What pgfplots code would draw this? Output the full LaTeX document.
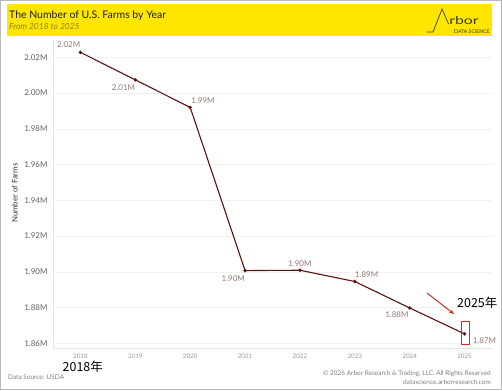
\documentclass[border=0pt]{standalone}
\usepackage{pgfplots}
\pgfplotsset{compat=1.18}
\usetikzlibrary{arrows.meta}
\usepackage{fontspec}
\setmainfont{Lato}
\newfontfamily\cjk{Noto Sans CJK SC}
\definecolor{banner}{HTML}{FFE600}
\definecolor{linec}{RGB}{88,20,14}
\definecolor{labc}{RGB}{150,120,112}
\definecolor{subc}{RGB}{140,130,40}
\definecolor{logoc}{RGB}{60,60,20}
\definecolor{annred}{RGB}{220,40,40}
\pgfplotsset{lbl/.style n args={3}{draw=none,mark=none,forget plot,point meta=explicit symbolic,nodes near coords,
  nodes near coords style={anchor=#1,xshift=#2bp,yshift=#3bp,inner sep=0pt,font=\fontsize{8}{9}\selectfont,text=labc}}}
\begin{document}
\begin{tikzpicture}
\begin{scope}[x=1bp,y=1bp]
\useasboundingbox (0,0) rectangle (502,390);
\fill[white] (0,0) rectangle (502,390);
\draw[gray!55,line width=1.4bp] (0.7,0.7) rectangle (501.3,389.3);
% banner
\fill[banner] (7,354.5) rectangle (492,386);
\node[anchor=base west,inner sep=0,font=\fontsize{10.5}{12}\selectfont,text=black!88] at (9,371.7) {The Number of U.S. Farms by Year};
\node[anchor=base west,inner sep=0,font=\fontsize{8.5}{10}\selectfont\itshape,text=subc] at (9,360.7) {From 2018 to 2025};
% logo
\draw[logoc,line width=0.7bp] (427,358) -- (433,358) -- (442,381) -- (448.5,366);
\node[anchor=base west,inner sep=0,font=\fontsize{11}{12}\selectfont,text=logoc,xscale=1.45] at (449,365.5) {rbor};
\node[anchor=base east,inner sep=0,font=\fontsize{5.2}{6}\selectfont,text=logoc] at (490,357) {DATA SCIENCE};
\end{scope}
\begin{axis}[
  at={(53bp,42bp)}, anchor=south west,
  scale only axis, width=439bp, height=308bp,
  xmin=-0.5, xmax=7.5, ymin=1.8574, ymax=2.0297,
  clip=false,
  axis lines*=left,
  axis line style={draw=gray!22,line width=0.6bp},
  major tick length=0pt,
  xtick={0,...,7},
  xticklabels={2018,2019,2020,2021,2022,2023,2024,2025},
  ytick={1.86,1.88,1.90,1.92,1.94,1.96,1.98,2.00,2.02},
  yticklabels={1.86M,1.88M,1.90M,1.92M,1.94M,1.96M,1.98M,2.00M,2.02M},
  ymajorgrids, grid style={draw=gray!12,line width=0.5bp},
  /pgf/number format/assume math mode=true,
  yticklabel style={font=\fontsize{8}{9}\selectfont,text=black!62,xshift=-2bp},
  xticklabel style={font=\fontsize{6.3}{7}\selectfont,text=black!40,yshift=-2bp},
  ylabel={Number of Farms},
  ylabel style={font=\fontsize{7.8}{9}\selectfont,text=black!80,at={(axis description cs:-0.087,0.503)},anchor=center,rotate=0},
]
\addplot[linec,line width=1.1bp,mark=*,mark size=1.1bp,mark options={fill=linec,draw=linec}]
  coordinates {(0,2.0228) (1,2.0074) (2,1.9920) (3,1.9007) (4,1.9009) (5,1.8946) (6,1.8798) (7,1.8653)};
\addplot[lbl={south east}{0}{4.3}] coordinates {(0,2.0228) [2.02M]};
\addplot[lbl={north east}{0}{-4.4}] coordinates {(1,2.0074) [2.01M]};
\addplot[lbl={south west}{1}{4}] coordinates {(2,1.9920) [1.99M]};
\addplot[lbl={north east}{0}{-4.7}] coordinates {(3,1.9007) [1.90M]};
\addplot[lbl={south}{0}{3.3}] coordinates {(4,1.9009) [1.90M]};
\addplot[lbl={south west}{0}{3.7}] coordinates {(5,1.8946) [1.89M]};
\addplot[lbl={north east}{-1}{-3.3}] coordinates {(6,1.8798) [1.88M]};
\addplot[lbl={west}{8}{-6.4}] coordinates {(7,1.8653) [1.87M]};
\end{axis}
\begin{scope}[x=1bp,y=1bp]
% annotations
\draw[annred,line width=0.9bp] (461,46) rectangle (469,69);
\draw[annred,line width=1bp,-{Stealth[length=5bp,width=4bp]}] (427,97) -- (454,76);
\node[anchor=base west,inner sep=0,font=\cjk\fontsize{12.5}{14}\selectfont] at (457,83) {2025年};
\node[anchor=base west,inner sep=0,font=\cjk\fontsize{12.5}{14}\selectfont] at (62.5,18.3) {2018年};
% footer
\node[anchor=base west,inner sep=0,font=\fontsize{6.5}{7}\selectfont,text=black!50] at (8,10.5) {Data Source: USDA};
\node[anchor=base east,inner sep=0,font=\fontsize{6.5}{7}\selectfont,text=black!50] at (491,14.3) {\textcopyright\ 2026 Arbor Research \& Trading, LLC. All Rights Reserved};
\node[anchor=base east,inner sep=0,font=\fontsize{6.5}{7}\selectfont,text=black!50] at (491,5.5) {datascience.arborresearch.com};
\end{scope}
\end{tikzpicture}
\end{document}
